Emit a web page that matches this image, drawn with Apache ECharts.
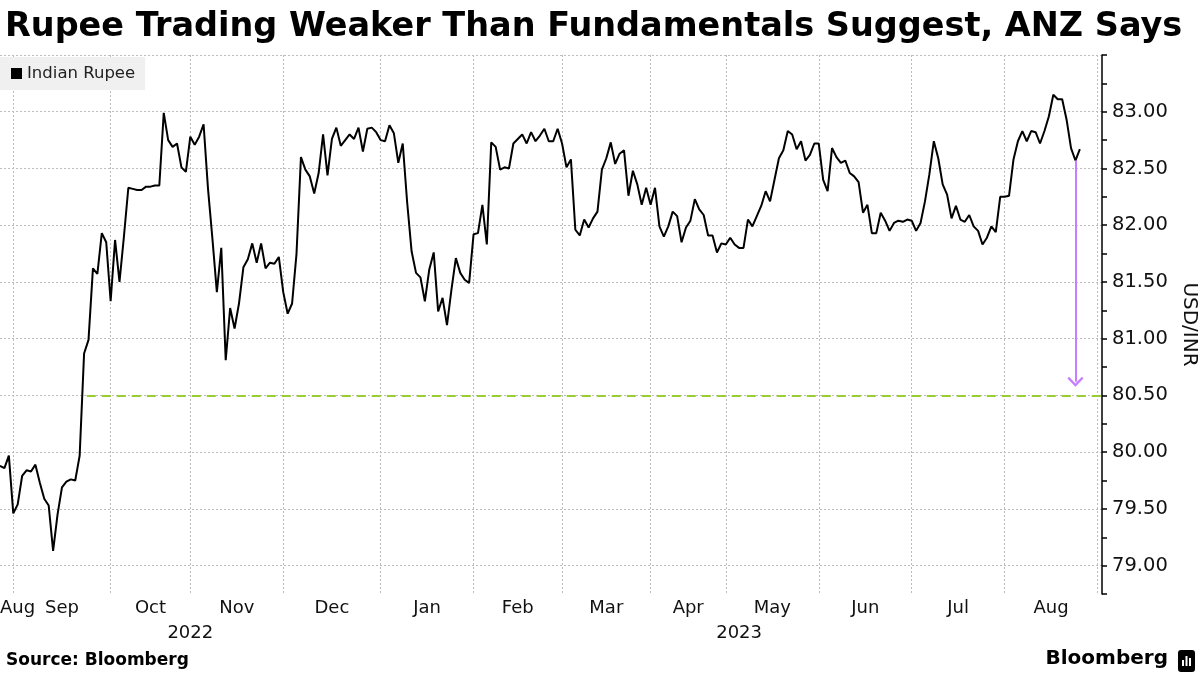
<!DOCTYPE html>
<html><head><meta charset="utf-8">
<script src="https://cdn.jsdelivr.net/npm/echarts@6/dist/echarts.min.js"></script>
<style>html,body{margin:0;padding:0;background:#fff}#c{width:1200px;height:675px}</style>
</head><body><div id="c"></div>
<script>
const titleText = 'Rupee Trading Weaker Than Fundamentals Suggest, ANZ Says';
const sourceText = 'Source: Bloomberg';
const seriesName = 'Indian Rupee';
const axisName = 'USD/INR';
const months = ['Aug','Sep','Oct','Nov','Dec','Jan','Feb','Mar','Apr','May','Jun','Jul','Aug'];
const monthTradingDays = [3,22,18,21,22,21,20,20,17,21,21,21,21];
const years = ['2022','2023'];
const monthsPerYear = [5, 8];
const yTickLabels = [79.00, 79.50, 80.00, 80.50, 81.00, 81.50, 82.00, 82.50, 83.00];
const yMin = 78.75, yMax = 83.5, yMinorStep = 0.25;
const fairValue = 80.50;
const fairValueFromDay = 19.6;
const arrowDay = 243, arrowFrom = 82.57, arrowTo = 80.62;

const rupee = [
79.88,79.86,79.97,79.46,79.54,79.79,79.84,79.83,79.89,79.73,
79.59,79.53,79.13,79.45,79.69,79.74,79.76,79.75,79.97,80.87,
80.99,81.62,81.57,81.93,81.85,81.33,81.87,81.50,81.90,82.33,
82.32,82.31,82.31,82.34,82.34,82.35,82.35,82.99,82.75,82.69,
82.72,82.51,82.47,82.78,82.71,82.78,82.89,82.32,81.88,81.41,
81.80,80.81,81.27,81.09,81.31,81.63,81.70,81.84,81.67,81.84,
81.62,81.67,81.66,81.72,81.41,81.22,81.31,81.75,82.60,82.49,
82.43,82.28,82.46,82.80,82.44,82.76,82.86,82.70,82.75,82.80,
82.76,82.86,82.65,82.85,82.86,82.82,82.75,82.74,82.88,82.81,
82.55,82.72,82.20,81.77,81.58,81.54,81.33,81.61,81.76,81.24,
81.36,81.12,81.43,81.71,81.58,81.52,81.49,81.92,81.93,82.18,
81.83,82.73,82.69,82.49,82.51,82.50,82.72,82.76,82.80,82.72,
82.82,82.74,82.79,82.85,82.74,82.74,82.85,82.72,82.51,82.58,
81.96,81.91,82.05,81.98,82.06,82.12,82.49,82.59,82.73,82.54,
82.63,82.66,82.26,82.48,82.36,82.18,82.33,82.18,82.33,81.99,
81.90,81.99,82.12,82.08,81.85,81.98,82.04,82.23,82.14,82.09,
81.91,81.91,81.76,81.84,81.83,81.89,81.83,81.80,81.80,82.05,
81.99,82.08,82.17,82.30,82.21,82.40,82.59,82.66,82.83,82.80,
82.67,82.74,82.57,82.62,82.72,82.72,82.40,82.30,82.68,82.60,
82.55,82.57,82.46,82.43,82.38,82.11,82.18,81.93,81.93,82.11,
82.04,81.95,82.02,82.04,82.03,82.05,82.04,81.95,82.02,82.21,
82.45,82.74,82.59,82.36,82.27,82.06,82.17,82.05,82.03,82.09,
81.99,81.95,81.83,81.89,81.99,81.94,82.25,82.25,82.26,82.58,
82.74,82.83,82.74,82.83,82.82,82.72,82.83,82.96,83.15,83.11,
83.11,82.93,82.68,82.57,82.67
];

const FONT = 'DejaVu Sans';
const boundaries = [0];
monthTradingDays.forEach(n => boundaries.push(boundaries[boundaries.length - 1] + n));
const xMax = boundaries[boundaries.length - 1] + 1;
const monthStarts = boundaries.slice(1);
const monthLabelPos = months.map((m, i) => i === 0 ? 0 : (boundaries[i] + boundaries[i + 1]) / 2);
const monthLabelMap = {};
monthLabelPos.forEach((p, i) => { monthLabelMap[p] = months[i]; });
const yearLabelPos = [];
const yearLabelMap = {};
let mi = 0;
years.forEach((y, i) => {
  const a = boundaries[mi], b = boundaries[mi + monthsPerYear[i]];
  mi += monthsPerYear[i];
  const p = (a + b) / 2;
  yearLabelPos.push(p); yearLabelMap[p] = y;
});
const gridValues = yTickLabels.concat([yMax]);
const minorTicks = [];
for (let v = yMin; v <= yMax + 1e-9; v += yMinorStep) minorTicks.push(Math.round(v * 100) / 100);

const gridLine = {show: true, lineStyle: {color: '#bdbdbd', type: [2, 2], width: 1}};

const chart = echarts.init(document.getElementById('c'));
chart.setOption({
  animation: false,
  backgroundColor: '#fff',
  title: {
    text: titleText, left: 0, top: 5,
    textStyle: {fontFamily: FONT, fontWeight: 'bold', fontSize: 33.5, color: '#000'}
  },
  legend: {
    data: [seriesName], left: 0, top: 57, icon: 'rect', itemWidth: 11, itemHeight: 11,
    backgroundColor: '#f0f0f0', padding: [8, 10, 8, 11], itemGap: 5,
    textStyle: {fontFamily: FONT, fontSize: 16.5, color: '#222'}
  },
  grid: {left: 0, right: 98, top: 55, bottom: 81, containLabel: false, outerBoundsMode: 'none'},
  xAxis: [{
    type: 'value', min: 0, max: xMax,
    axisLine: {show: false, onZero: false}, axisTick: {show: false, customValues: monthStarts},
    splitLine: gridLine,
    axisLabel: {
      customValues: monthLabelPos, alignMinLabel: 'left', margin: 5,
      formatter: v => monthLabelMap[v] || '',
      fontFamily: FONT, fontSize: 18, color: '#111'
    }
  }, {
    type: 'value', min: 0, max: xMax, position: 'bottom', offset: 25,
    axisLine: {show: false, onZero: false}, axisTick: {show: false}, splitLine: {show: false},
    axisLabel: {
      customValues: yearLabelPos, margin: 5,
      formatter: v => yearLabelMap[v] || '',
      fontFamily: FONT, fontSize: 18, color: '#111'
    }
  }],
  yAxis: [{
    type: 'value', min: yMin, max: yMax, position: 'right',
    axisLine: {show: false, onZero: false}, axisTick: {show: false, customValues: gridValues},
    axisLabel: {show: false}, splitLine: gridLine
  }, {
    type: 'value', min: yMin, max: yMax, position: 'right',
    axisLine: {show: true, onZero: false, lineStyle: {color: '#000', width: 1.5}},
    axisTick: {show: true, customValues: minorTicks, length: 5, lineStyle: {color: '#000', width: 1.5}},
    splitLine: {show: false},
    axisLabel: {
      customValues: yTickLabels, margin: 10,
      formatter: v => v.toFixed(2),
      fontFamily: FONT, fontSize: 19.5, color: '#111'
    },
    name: axisName, nameLocation: 'middle', nameRotate: -90, nameGap: 74,
    nameTextStyle: {fontFamily: FONT, fontSize: 20, color: '#111'}
  }],
  series: [{
    name: seriesName, type: 'line', xAxisIndex: 0, yAxisIndex: 0,
    data: rupee.map((v, i) => [i, v]),
    showSymbol: false, symbol: 'none',
    itemStyle: {color: '#000'},
    lineStyle: {color: '#000', width: 2},
    markLine: {
      silent: true, animation: false, label: {show: false},
      data: [
        [{coord: [fairValueFromDay, fairValue], symbol: 'none', lineStyle: {color: '#9acd32', type: [9, 6], width: 2}},
         {coord: [xMax, fairValue], symbol: 'none'}],
        [{coord: [arrowDay, arrowFrom], symbol: 'none', lineStyle: {color: '#c77dff', type: 'solid', width: 2}},
         {coord: [arrowDay, arrowTo], symbol: 'path://M0,10 L10,0 L20,10 L18,12 L10,4 L2,12 Z', symbolSize: [16, 10]}]
      ]
    }
  }],
  graphic: [
    {type: 'text', left: 6, top: 652, style: {text: sourceText, font: 'bold 17px "DejaVu Sans"', fill: '#000'}},
    {type: 'text', right: 32, top: 649, style: {text: 'Bloomberg', font: 'bold 20px "DejaVu Sans"', fill: '#000'}},
    {type: 'group', right: 5, top: 650, children: [
      {type: 'rect', shape: {x: 0, y: 0, width: 17, height: 22, r: 3}, style: {fill: '#000'}},
      {type: 'rect', shape: {x: 4, y: 10, width: 2, height: 6}, style: {fill: '#fff'}},
      {type: 'rect', shape: {x: 7.5, y: 6, width: 2, height: 10}, style: {fill: '#fff'}},
      {type: 'rect', shape: {x: 11, y: 8, width: 2, height: 8}, style: {fill: '#fff'}}
    ]}
  ]
});
</script>
</body></html>
